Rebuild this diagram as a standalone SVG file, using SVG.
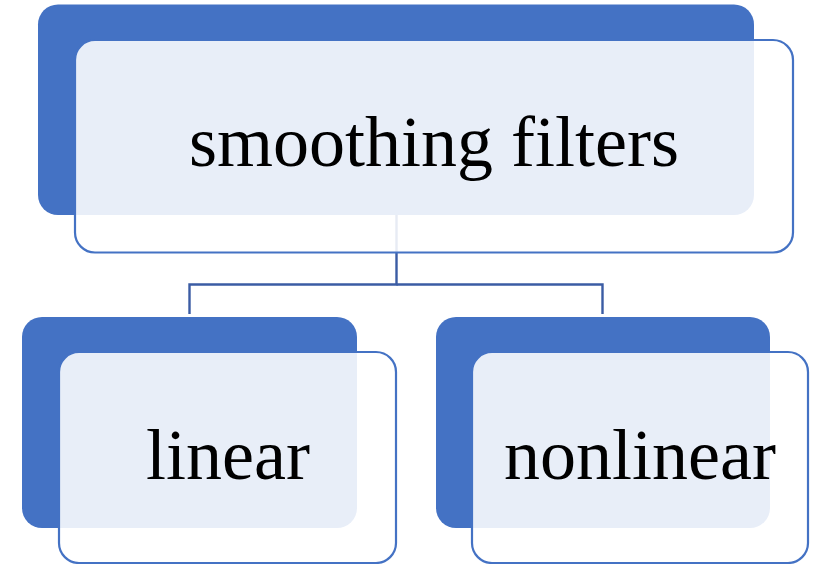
<svg xmlns="http://www.w3.org/2000/svg" width="820" height="564" viewBox="0 0 820 564">
  <style>
    .back { fill: #4472C4; }
    .front { fill: #FFFFFF; fill-opacity: 0.88; stroke: #4472C4; stroke-width: 2.2; }
    .label { font-family: "Liberation Serif", "Times New Roman", serif; font-size: 72px; fill: #000000; text-anchor: middle; }
    .link { fill: none; stroke: #3B5CA4; stroke-width: 2.4; }
  </style>
  <rect width="820" height="564" fill="#FFFFFF"/>

  <!-- hierarchy connectors -->
  <g id="connectors">
    <path class="link" d="M396.5 215 V284.5 H189.5 V314"/>
    <path class="link" d="M396.5 284.5 H602.5 V314"/>
  </g>

  <!-- root node -->
  <g id="node-smoothing-filters">
    <rect class="back" x="38" y="4.5" width="716" height="210.5" rx="20"/>
    <rect class="front" x="75" y="40" width="718" height="212.5" rx="20"/>
    <text class="label" x="434" y="166">smoothing filters</text>
  </g>

  <!-- child: linear -->
  <g id="node-linear">
    <rect class="back" x="22" y="317" width="335" height="211" rx="20"/>
    <rect class="front" x="59" y="352" width="337" height="211" rx="20"/>
    <text class="label" x="228" y="479">linear</text>
  </g>

  <!-- child: nonlinear -->
  <g id="node-nonlinear">
    <rect class="back" x="436" y="317" width="334" height="211" rx="20"/>
    <rect class="front" x="472" y="352" width="336" height="211" rx="20"/>
    <text class="label" x="640" y="479">nonlinear</text>
  </g>
</svg>
